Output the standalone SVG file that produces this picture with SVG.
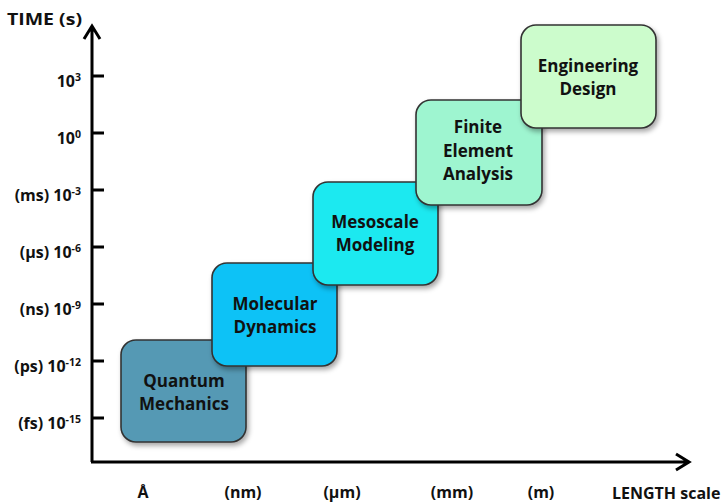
<svg xmlns="http://www.w3.org/2000/svg" width="727" height="504" viewBox="0 0 727 504">
<defs>
<filter id="sh" x="-20%" y="-20%" width="140%" height="140%">
<feDropShadow dx="2" dy="3" stdDeviation="2.5" flood-color="#000" flood-opacity="0.35"/>
</filter>
<style>
.box{stroke:#333;stroke-width:1.6;filter:url(#sh)}
.bt{font-family:"Open Sans","Liberation Sans",sans-serif;font-weight:bold;font-size:17px;fill:#111;text-anchor:middle}
.ax{font-family:"Open Sans","Liberation Sans",sans-serif;font-weight:bold;font-size:16px;fill:#111}
.yl{text-anchor:end}
.xl{text-anchor:middle}
.axis{stroke:#000;stroke-width:3;fill:none}
.sup{font-size:10.5px}
</style>
</defs>
<rect width="727" height="504" fill="#fff"/>
<g id="axes" class="connectors">
<path class="axis" d="M92,462 V26 M84,39 L92,26 L100,39"/>
<path class="axis" d="M91,462 H689 M676,454 L689,462 L676,470"/>
<path class="axis" d="M92,76 H104 M92,133 H104 M92,190 H104 M92,247 H104 M92,304 H104 M92,361 H104 M92,418 H104"/>
</g>
<g id="ylabels">
<text class="ax" x="7" y="25" textLength="75" lengthAdjust="spacingAndGlyphs">TIME (s)</text>
<text class="ax yl" x="81" y="87">10<tspan class="sup" dy="-6">3</tspan></text>
<text class="ax yl" x="81" y="144">10<tspan class="sup" dy="-6">0</tspan></text>
<text class="ax yl" x="81" y="201">(ms) 10<tspan class="sup" dy="-6">-3</tspan></text>
<text class="ax yl" x="81" y="258">(µs) 10<tspan class="sup" dy="-6">-6</tspan></text>
<text class="ax yl" x="81" y="315">(ns) 10<tspan class="sup" dy="-6">-9</tspan></text>
<text class="ax yl" x="81" y="372">(ps) 10<tspan class="sup" dy="-6">-12</tspan></text>
<text class="ax yl" x="81" y="429">(fs) 10<tspan class="sup" dy="-6">-15</tspan></text>
</g>
<g id="xlabels">
<text class="ax xl" x="143" y="498">Å</text>
<text class="ax xl" x="243" y="498">(nm)</text>
<text class="ax xl" x="342" y="498">(µm)</text>
<text class="ax xl" x="452" y="498">(mm)</text>
<text class="ax xl" x="541" y="498">(m)</text>
<text class="ax" x="612" y="499" font-size="14.5px">LENGTH scale</text>
</g>
<g id="quantum">
<rect class="box" x="121" y="340" width="125" height="102" rx="15" fill="#5499b4"/>
<text class="bt" x="184" y="387">Quantum</text>
<text class="bt" x="184" y="410">Mechanics</text>
</g>
<g id="molecular">
<rect class="box" x="212" y="263" width="125" height="103" rx="15" fill="#0cc2f6"/>
<text class="bt" x="275" y="310">Molecular</text>
<text class="bt" x="275" y="333">Dynamics</text>
</g>
<g id="mesoscale">
<rect class="box" x="313" y="182" width="125" height="103" rx="15" fill="#1ee9f0"/>
<text class="bt" x="375" y="228">Mesoscale</text>
<text class="bt" x="375" y="251">Modeling</text>
</g>
<g id="finite">
<rect class="box" x="416" y="100" width="126" height="105" rx="15" fill="#9ef5d0"/>
<text class="bt" x="478" y="133">Finite</text>
<text class="bt" x="478" y="157">Element</text>
<text class="bt" x="478" y="180">Analysis</text>
</g>
<g id="engineering">
<rect class="box" x="521" y="25" width="135" height="103" rx="15" fill="#ccfccc"/>
<text class="bt" x="588" y="72">Engineering</text>
<text class="bt" x="588" y="95">Design</text>
</g>
</svg>
